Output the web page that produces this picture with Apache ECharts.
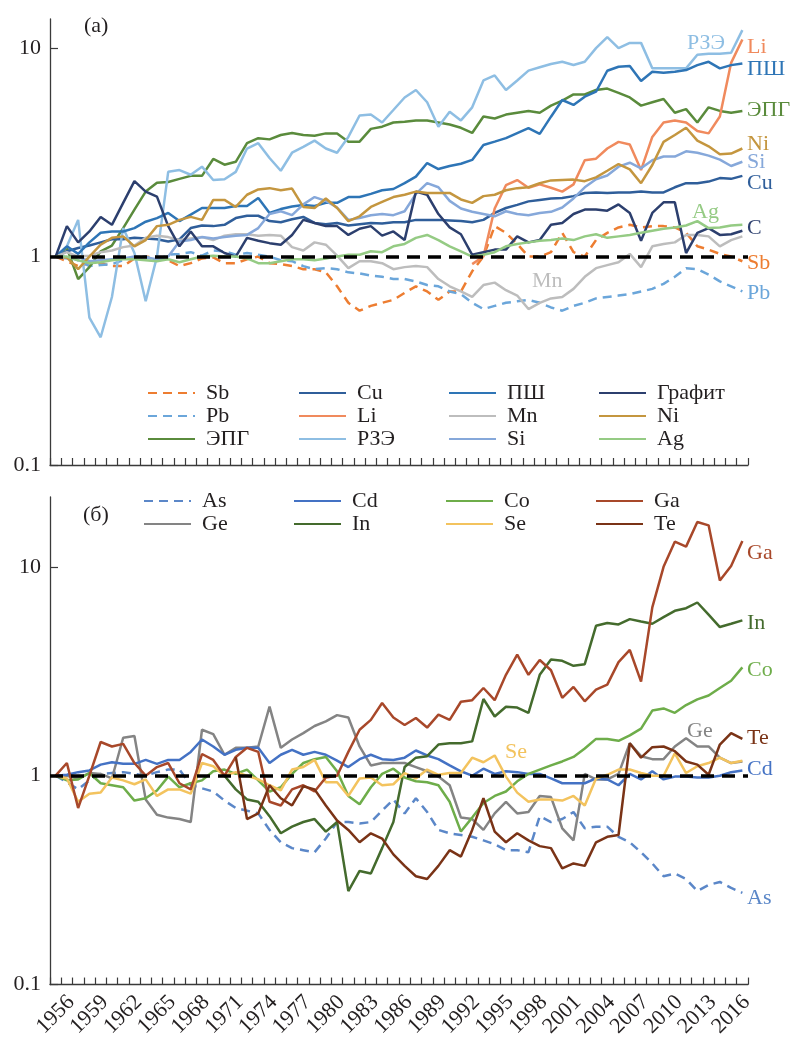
<!DOCTYPE html>
<html>
<head>
<meta charset="utf-8">
<script src="https://cdn.jsdelivr.net/npm/echarts@6.0.0/dist/echarts.min.js"></script>
<style>
  html, body { margin: 0; background: #fff; }
  #main { width: 796px; height: 1040px; }
</style>
</head>
<body>
<div id="main"></div>
<script>
// years on the x axis, one point per year
const years = []
for (let y = 1956; y <= 2017; y++) years.push(String(y))
const yTicks = [0.1, 1, 10]

// panel (а)
const sb = [1, 0.95, 0.9, 0.93, 0.93, 0.9, 0.9, 0.98, 1.0, 0.99,
  0.96, 0.9, 0.93, 0.98, 0.99, 0.93, 0.93, 0.97, 1.0, 0.93,
  0.92, 0.9, 0.87, 0.87, 0.84, 0.72, 0.6, 0.55, 0.58, 0.6,
  0.62, 0.67, 0.72, 0.68, 0.62, 0.68, 0.68, 0.85, 1.0, 1.4,
  1.3, 1.15, 1.0, 1.0, 1.05, 1.3, 1.05, 1.0, 1.2, 1.3,
  1.38, 1.42, 1.38, 1.4, 1.4, 1.38, 1.3, 1.12, 1.08, 1.03,
  1.0, 0.95]
const pb = [1, 1.0, 0.96, 0.9, 0.91, 0.92, 0.96, 0.99, 1.0, 0.96,
  1.02, 1.03, 1.05, 1.01, 1.07, 1.06, 1.02, 1.04, 1.02, 1.0,
  0.96, 0.95, 0.9, 0.87, 0.88, 0.87, 0.84, 0.83, 0.81, 0.8,
  0.78, 0.78, 0.76, 0.73, 0.72, 0.68, 0.66, 0.6, 0.56, 0.58,
  0.6, 0.61, 0.62, 0.6, 0.57, 0.55, 0.58, 0.6, 0.63, 0.64,
  0.65, 0.66, 0.68, 0.7, 0.74, 0.8, 0.88, 0.87, 0.82, 0.76,
  0.72, 0.68]
const epg = [1, 1.1, 0.78, 0.89, 1.06, 1.13, 1.37, 1.68, 2.05, 2.26,
  2.28, 2.36, 2.44, 2.44, 2.94, 2.76, 2.85, 3.5, 3.7, 3.65,
  3.83, 3.92, 3.83, 3.8, 3.9, 3.9, 3.56, 3.56, 4.1, 4.2,
  4.4, 4.44, 4.5, 4.5, 4.4, 4.3, 4.15, 3.92, 4.7, 4.6,
  4.8, 4.9, 5.0, 4.9, 5.3, 5.6, 6.0, 6.0, 6.3, 6.4,
  6.1, 5.8, 5.3, 5.5, 5.7, 4.9, 5.1, 4.4, 5.2, 5.0,
  4.9, 5.0]
const cu = [1, 1.06, 1.1, 1.13, 1.17, 1.21, 1.21, 1.23, 1.22, 1.21,
  1.18, 1.21, 1.37, 1.41, 1.4, 1.42, 1.53, 1.57, 1.57, 1.48,
  1.46, 1.51, 1.55, 1.45, 1.43, 1.45, 1.41, 1.43, 1.45, 1.44,
  1.46, 1.46, 1.5, 1.5, 1.5, 1.49, 1.48, 1.46, 1.5, 1.62,
  1.71, 1.77, 1.84, 1.87, 1.9, 1.91, 1.95, 2.02, 2.03, 2.02,
  2.03, 2.03, 2.05, 2.03, 2.03, 2.15, 2.25, 2.25, 2.29, 2.38,
  2.36, 2.44]
const li = [null, null, null, null, null, null, null, null, null, null,
  null, null, null, null, null, null, null, null, null, null,
  null, null, null, null, null, null, null, null, null, null,
  null, null, null, null, null, null, null, 0.92, 1.0, 1.7,
  2.2, 2.33, 2.14, 2.22, 2.14, 2.05, 2.22, 2.9, 2.95, 3.3,
  3.55, 3.45, 2.6, 3.75, 4.4, 4.5, 4.4, 4.0, 3.9, 4.7,
  8.5, 11.0]
const rze = [1, 1.12, 1.5, 0.51, 0.41, 0.64, 1.37, 1.04, 0.61, 1.0,
  2.55, 2.6, 2.47, 2.7, 2.33, 2.35, 2.55, 3.3, 3.5, 2.97,
  2.58, 3.15, 3.36, 3.6, 3.3, 3.15, 3.75, 4.75, 4.8, 4.4,
  5.05, 5.8, 6.3, 5.5, 4.2, 4.95, 4.5, 5.2, 7.0, 7.4,
  6.3, 7.0, 7.8, 8.1, 8.4, 8.6, 8.3, 8.6, 10, 11.3,
  10, 10.6, 10.6, 8.0, 8.0, 8.0, 8.0, 9.3, 9.4, 9.4,
  9.5, 12.2]
const psh = [1, 1.12, 1.03, 1.17, 1.3, 1.32, 1.32, 1.37, 1.47, 1.53,
  1.62, 1.48, 1.59, 1.71, 1.71, 1.71, 1.75, 1.75, 1.91, 1.62,
  1.69, 1.74, 1.77, 1.75, 1.81, 1.81, 1.93, 1.93, 2.0, 2.08,
  2.11, 2.25, 2.42, 2.81, 2.63, 2.72, 2.79, 2.91, 3.43, 3.56,
  3.7, 3.91, 4.13, 3.88, 4.69, 5.64, 5.34, 5.85, 6.18, 7.79,
  8.14, 8.2, 6.95, 7.7, 7.62, 7.7, 7.85, 8.29, 8.6, 8.0,
  8.29, 8.45]
const mn = [1, 1.05, 1.0, 1.01, 1.05, 1.07, 1.11, 1.13, 1.23, 1.26,
  1.24, 1.2, 1.22, 1.24, 1.2, 1.26, 1.28, 1.28, 1.26, 1.27,
  1.26, 1.11, 1.07, 1.17, 1.14, 1.01, 0.88, 0.95, 0.95, 0.93,
  0.87, 0.89, 0.9, 0.89, 0.78, 0.72, 0.68, 0.64, 0.73, 0.75,
  0.69, 0.65, 0.56, 0.6, 0.63, 0.64, 0.7, 0.8, 0.88, 0.91,
  0.94, 1.03, 0.89, 1.12, 1.15, 1.17, 1.27, 1.27, 1.25, 1.12,
  1.2, 1.25]
const si = [1, 0.98, 1.0, 0.95, 0.96, 0.97, 0.98, 1.0, 0.99, 0.97,
  1.0, 1.18, 1.2, 1.24, 1.22, 1.24, 1.26, 1.27, 1.37, 1.6,
  1.65, 1.58, 1.78, 1.93, 1.85, 1.72, 1.5, 1.53, 1.58, 1.6,
  1.58, 1.65, 2.0, 2.25, 2.15, 1.85, 1.7, 1.64, 1.6, 1.56,
  1.65, 1.6, 1.58, 1.62, 1.64, 1.72, 1.9, 2.15, 2.35, 2.45,
  2.7, 2.82, 2.65, 2.9, 3.02, 3.02, 3.2, 3.15, 3.05, 2.92,
  2.72, 2.85]
const graphite = [1, 1.4, 1.17, 1.32, 1.55, 1.42, 1.81, 2.3, 2.05, 1.94,
  1.4, 1.12, 1.32, 1.12, 1.12, 1.04, 1.0, 1.23, 1.19, 1.16,
  1.14, 1.27, 1.5, 1.45, 1.4, 1.4, 1.27, 1.36, 1.4, 1.26,
  1.32, 1.2, 2.05, 1.98, 1.6, 1.38, 1.28, 1.02, 1.05, 1.08,
  1.08, 1.25, 1.17, 1.2, 1.42, 1.45, 1.6, 1.68, 1.68, 1.66,
  1.78, 1.62, 1.19, 1.62, 1.82, 1.82, 1.04, 1.3, 1.37, 1.27,
  1.28, 1.33]
const ni = [1, 0.99, 0.87, 1.0, 1.14, 1.23, 1.25, 1.12, 1.2, 1.4,
  1.42, 1.5, 1.55, 1.5, 1.87, 1.87, 1.73, 1.98, 2.1, 2.13,
  2.08, 2.12, 1.73, 1.71, 1.9, 1.71, 1.48, 1.56, 1.73, 1.83,
  1.93, 1.98, 2.05, 2.02, 2.02, 2.02, 1.88, 1.81, 1.95, 1.98,
  2.08, 2.13, 2.15, 2.25, 2.32, 2.33, 2.34, 2.3, 2.4, 2.58,
  2.78, 2.62, 2.25, 2.75, 3.55, 3.83, 4.15, 3.6, 3.38, 3.1,
  3.12, 3.3]
const ag = [1, 1.0, 0.96, 0.93, 0.94, 0.96, 0.97, 0.97, 0.96, 0.95,
  0.97, 0.94, 0.97, 1.0, 1.01, 1.0, 1.0, 0.98, 0.93, 0.93,
  0.95, 0.97, 0.97, 0.96, 0.98, 1.0, 1.02, 1.02, 1.06, 1.05,
  1.12, 1.15, 1.23, 1.27, 1.2, 1.12, 1.06, 1.0, 1.02, 1.05,
  1.12, 1.15, 1.17, 1.19, 1.2, 1.22, 1.2, 1.25, 1.28, 1.23,
  1.25, 1.27, 1.3, 1.33, 1.36, 1.38, 1.41, 1.48, 1.37, 1.38,
  1.41, 1.42]

// panel (б)
const as = [1, 0.93, 0.86, 0.95, 1.02, 1.03, 1.04, 1.02, 1.0, 1.04,
  1.07, 1.07, 0.9, 0.87, 0.84, 0.76, 0.7, 0.68, 0.66, 0.55,
  0.48, 0.45, 0.44, 0.43, 0.5, 0.6, 0.6, 0.59, 0.6, 0.68,
  0.77, 0.66, 0.78, 0.67, 0.55, 0.53, 0.52, 0.51, 0.49, 0.47,
  0.44, 0.44, 0.43, 0.64, 0.6, 0.62, 0.67, 0.56, 0.57, 0.57,
  0.51, 0.48, 0.43, 0.38, 0.33, 0.34, 0.32, 0.28, 0.3, 0.31,
  0.29, 0.275]
const cd = [1, 1.01, 1.04, 1.06, 1.13, 1.16, 1.14, 1.14, 1.19, 1.14,
  1.19, 1.19, 1.3, 1.49, 1.38, 1.26, 1.33, 1.36, 1.36, 1.15,
  1.26, 1.33, 1.26, 1.3, 1.26, 1.18, 1.1, 1.2, 1.26, 1.2,
  1.19, 1.22, 1.32, 1.25, 1.2, 1.12, 1.05, 1.0, 1.08, 1.02,
  1.05, 1.04, 1.02, 1.02, 0.97, 0.92, 0.92, 0.92, 0.97, 0.96,
  0.9, 1.02, 0.96, 1.05, 0.96, 0.99, 0.99, 0.98, 0.98, 1.0,
  1.04, 1.06]
const co = [1, 0.95, 0.96, 1.03, 0.92, 0.9, 0.88, 0.76, 0.78, 0.85,
  0.99, 0.88, 0.92, 0.95, 1.05, 1.07, 1.02, 1.07, 0.95, 0.84,
  0.88, 1.02, 1.15, 1.2, 1.23, 1.05, 0.8, 0.73, 0.88, 1.02,
  1.08, 0.98, 0.94, 0.93, 0.9, 0.75, 0.54, 0.63, 0.74, 0.8,
  0.84, 0.94, 1.02, 1.07, 1.12, 1.17, 1.23, 1.35, 1.5, 1.5,
  1.47, 1.56, 1.68, 2.05, 2.1, 2.0, 2.18, 2.32, 2.42, 2.63,
  2.85, 3.3]
const ga = [1, 1.15, 0.7, 1.0, 1.45, 1.38, 1.42, 1.15, 1.0, 1.1,
  1.15, 0.92, 0.86, 1.27, 1.19, 1.0, 1.23, 1.36, 1.3, 0.75,
  0.72, 0.86, 0.9, 0.84, 0.98, 1.0, 1.3, 1.66, 1.85, 2.23,
  1.9, 1.75, 1.89, 1.7, 1.96, 1.85, 2.26, 2.3, 2.63, 2.3,
  3.04, 3.8, 3.04, 3.58, 3.2, 2.36, 2.66, 2.27, 2.58, 2.73,
  3.5, 4.0, 2.82, 6.4, 10.0, 13.2, 12.5, 16.4, 15.8, 8.6,
  10.1, 13.3]
const ge = [1, 1.0, 0.97, 1.03, 1.02, 0.97, 1.52, 1.55, 0.77, 0.65,
  0.63, 0.62, 0.6, 1.66, 1.58, 1.26, 1.36, 1.36, 1.38, 2.14,
  1.36, 1.49, 1.6, 1.73, 1.82, 1.95, 1.9, 1.38, 1.12, 1.15,
  1.15, 1.15, 1.1, 1.05, 0.99, 0.9, 0.63, 0.62, 0.55, 0.66,
  0.75, 0.66, 0.67, 0.8, 0.79, 0.56, 0.49, 1.02, 0.96, 0.96,
  1.02, 1.43, 1.24, 1.2, 1.2, 1.38, 1.51, 1.38, 1.38, 1.22,
  1.15, 1.17]
const inn = [null, null, null, null, null, null, null, null, null, null,
  null, null, null, null, null, 1.0, 0.86, 0.77, 0.75, 0.64,
  0.53, 0.57, 0.6, 0.62, 0.54, 0.6, 0.28, 0.35, 0.34, 0.45,
  0.6, 1.1, 1.22, 1.24, 1.41, 1.43, 1.43, 1.46, 2.33, 1.92,
  2.14, 2.12, 2.0, 3.04, 3.6, 3.55, 3.36, 3.42, 5.22, 5.38,
  5.3, 5.62, 5.47, 5.34, 5.74, 6.16, 6.34, 6.75, 5.9, 5.15,
  5.34, 5.54]
const se = [1, 0.97, 0.75, 0.82, 0.83, 0.98, 0.95, 0.91, 0.96, 0.8,
  0.86, 0.86, 0.82, 1.15, 1.11, 1.0, 1.04, 1.0, 0.96, 0.9,
  0.85, 1.07, 1.1, 1.19, 0.93, 0.93, 0.8, 0.97, 0.98, 0.9,
  0.91, 1.03, 0.97, 1.07, 1.01, 1.03, 1.03, 1.22, 1.16, 1.25,
  0.99, 0.83, 0.75, 0.77, 0.77, 0.76, 0.8, 0.72, 0.97, 1.01,
  1.07, 1.07, 1.03, 1.0, 1.0, 1.28, 1.03, 1.11, 1.15, 1.22,
  1.15, 1.18]
const te = [null, null, null, null, null, null, null, null, null, null,
  null, null, null, null, null, null, 1.23, 0.62, 0.66, 0.9,
  0.78, 0.72, 0.89, 0.86, 0.72, 0.61, 0.55, 0.48, 0.53, 0.5,
  0.42, 0.37, 0.33, 0.32, 0.37, 0.44, 0.41, 0.55, 0.78, 0.54,
  0.48, 0.53, 0.49, 0.46, 0.45, 0.36, 0.38, 0.37, 0.48, 0.51,
  0.52, 1.43, 1.22, 1.37, 1.38, 1.31, 1.17, 1.13, 1.01, 1.41,
  1.6, 1.5]

const FONT = 'Liberation Serif'
const TEXT = '#231f20'
const AXIS = '#3a3a3a'

const line = (name, data, color, idx, dashed) => ({
  name,
  type: 'line',
  data,
  xAxisIndex: idx,
  yAxisIndex: idx,
  symbol: 'none',
  connectNulls: false,
  lineStyle: { color, width: 2.5, type: dashed ? [9, 6] : 'solid' },
  itemStyle: { color },
  emphasis: { disabled: true }
})

const baseline = {
  symbol: 'none',
  silent: true,
  label: { show: false },
  lineStyle: { color: '#000', width: 3.5, type: [13, 8] },
  data: [{ yAxis: 1 }]
}

const seriesA = [
  line('Sb', sb, '#ED7D31', 0, true),
  line('Pb', pb, '#6BA6DA', 0, true),
  line('ЭПГ', epg, '#5A8B3C', 0),
  line('Cu', cu, '#2F5E9A', 0),
  line('Li', li, '#F08A5D', 0),
  line('РЗЭ', rze, '#8EBEE3', 0),
  line('ПШ', psh, '#2E75B6', 0),
  line('Mn', mn, '#BDBDBD', 0),
  line('Si', si, '#86A8DA', 0),
  line('Графит', graphite, '#2C3F6E', 0),
  line('Ni', ni, '#C4963F', 0),
  line('Ag', ag, '#95CB84', 0)
]
seriesA[seriesA.length - 1].markLine = baseline

const seriesB = [
  line('As', as, '#5B87C8', 1, true),
  line('Ge', ge, '#848484', 1),
  line('Cd', cd, '#4472C4', 1),
  line('In', inn, '#446B2D', 1),
  line('Co', co, '#6EAD4A', 1),
  line('Se', se, '#F3C35E', 1),
  line('Ga', ga, '#A8482A', 1),
  line('Te', te, '#7A3316', 1)
]
seriesB[seriesB.length - 1].markLine = baseline

const legendCol = (left, top, names) => ({
  orient: 'vertical',
  left,
  top,
  data: names,
  selectedMode: false,
  itemWidth: 47,
  itemHeight: 12,
  itemGap: 1,
  padding: 0,
  itemStyle: { opacity: 0 },
  textStyle: { fontFamily: FONT, fontSize: 22, color: TEXT, lineHeight: 20, padding: [0, 0, 0, 6] }
})

const xAxis = (idx, labels) => ({
  type: 'category',
  gridIndex: idx,
  data: years,
  boundaryGap: true,
  axisLine: { lineStyle: { color: AXIS, width: 1.3 } },
  axisTick: { show: true, inside: true, length: 7, interval: 0, lineStyle: { color: AXIS, width: 1.2 } },
  axisLabel: {
    show: labels,
    interval: 2,
    rotate: 45,
    align: 'center',
    verticalAlign: 'middle',
    margin: 30,
    fontFamily: FONT,
    fontSize: 22,
    color: TEXT
  },
  splitLine: { show: false }
})

const yAxis = (idx, max) => ({
  type: 'log',
  logBase: 10,
  gridIndex: idx,
  min: 0.1,
  max,
  axisLine: { show: true, lineStyle: { color: AXIS, width: 1.3 } },
  axisTick: { show: true, inside: true, length: 8, customValues: yTicks, lineStyle: { color: AXIS, width: 1.2 } },
  axisLabel: {
    customValues: yTicks,
    margin: 9,
    fontFamily: FONT,
    fontSize: 22,
    color: TEXT,
    formatter: v => String(+(+v).toPrecision(3))
  },
  splitLine: { show: false }
})

// text next to the lines
const tags = [
  ['РЗЭ', 687, 43, '#8EBEE3'], ['Li', 747, 47, '#F08A5D'], ['ПШ', 747, 69, '#2E75B6'],
  ['ЭПГ', 747, 110, '#5A8B3C'], ['Ni', 747, 144, '#C4963F'], ['Si', 747, 162, '#86A8DA'],
  ['Cu', 747, 183, '#2F5E9A'], ['Ag', 692, 212, '#95CB84'], ['C', 747, 228, '#2C3F6E'],
  ['Sb', 747, 263, '#ED7D31'], ['Pb', 747, 293, '#6BA6DA'], ['Mn', 532, 281, '#BDBDBD'],
  ['Ga', 747, 553, '#A8482A'], ['In', 747, 623, '#446B2D'], ['Co', 747, 670, '#6EAD4A'],
  ['Ge', 687, 731, '#848484'], ['Te', 747, 738, '#7A3316'], ['Se', 505, 752, '#F3C35E'],
  ['Cd', 747, 769, '#4472C4'], ['As', 747, 898, '#5B87C8'],
  ['(а)', 84, 26, TEXT], ['(б)', 83, 515, TEXT]
]

const option = {
  animation: false,
  backgroundColor: '#fff',
  grid: [
    { left: 50, width: 698, top: 19, height: 446 },
    { left: 50, width: 698, top: 497, height: 488 }
  ],
  xAxis: [xAxis(0, false), xAxis(1, true)],
  yAxis: [yAxis(0, 13.8), yAxis(1, 21.6)],
  legend: [
    legendCol(147, 382, ['Sb', 'Pb', 'ЭПГ']),
    legendCol(298, 382, ['Cu', 'Li', 'РЗЭ']),
    legendCol(448, 382, ['ПШ', 'Mn', 'Si']),
    legendCol(598, 382, ['Графит', 'Ni', 'Ag']),
    legendCol(143, 490, ['As', 'Ge']),
    legendCol(293, 490, ['Cd', 'In']),
    legendCol(445, 490, ['Co', 'Se']),
    legendCol(595, 490, ['Ga', 'Te'])
  ],
  graphic: tags.map(([text, x, y, fill]) => ({
    type: 'text',
    x,
    y,
    silent: true,
    style: { text, fill, font: '22px "' + FONT + '"', verticalAlign: 'middle' }
  })),
  series: seriesA.concat(seriesB)
}

const chart = echarts.init(document.getElementById('main'))
chart.setOption(option)
</script>
</body>
</html>
